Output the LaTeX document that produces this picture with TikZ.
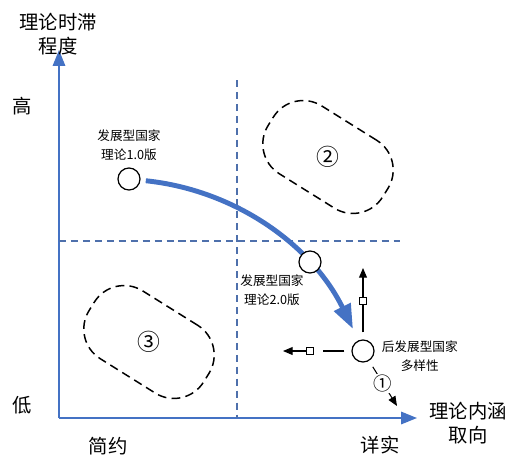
\documentclass[tikz,border=0pt]{standalone}
\usepackage{fontspec}
\setmainfont{Noto Sans CJK SC}
\usetikzlibrary{positioning, shapes, arrows.meta}

\definecolor{axisblue}{RGB}{68,114,196}
\definecolor{gridblue}{RGB}{78,112,172}

\begin{document}
\begin{tikzpicture}[x=0.02cm,y=-0.02cm,
bigtext/.style={align=center,font=\fontsize{11}{14}\selectfont},
smalltext/.style={align=center,font=\fontsize{7.2}{10.5}\selectfont},
point/.style={draw,circle,fill=white,minimum size=0.44cm,inner sep=0pt,line width=0.7pt},
region/.style={draw,dash pattern=on 5pt off 3pt,line width=0.85pt,rounded corners=0.7cm,minimum width=2.7cm,minimum height=1.6cm,rotate=-32},
sq/.style={draw,fill=white,minimum size=0.15cm,inner sep=0pt,line width=0.6pt},
axis/.style={axisblue,line width=1.1pt,-{Triangle[length=9pt,width=7pt]}},
grid/.style={gridblue,line width=0.8pt,dash pattern=on 4pt off 2.8pt},
move/.style={line width=0.6pt,-{Triangle[length=5.5pt,width=4.5pt]}}
]
\useasboundingbox (0,0) rectangle (520,460);

% axes
\coordinate (origin) at (59,418);
\coordinate (ytop) at (59,50);
\coordinate (xend) at (417,418);
\draw[axis] (origin) -- (ytop);
\draw[axis] (origin) -- (xend);
\node[bigtext] (ylab) at (58,34) {理论时滞\\程度};
\node[bigtext] (xlab) at (468,423) {理论内涵\\取向};
\node[bigtext] (high) at (22,106) {高};
\node[bigtext] (low) at (22,405) {低};
\node[bigtext] (simple) at (108,446) {简约};
\node[bigtext] (detail) at (380,445) {详实};

% quadrant lines
\coordinate (vtop) at (237,80);
\coordinate (vbot) at (237,418);
\coordinate (hleft) at (59,241);
\coordinate (hright) at (400,241);
\draw[grid] (vtop) -- (vbot);
\draw[grid] (hleft) -- (hright);

% regions
\node[region] (regA) at (328,157) {};
\node[font=\fontsize{13}{13}\selectfont] at (regA) {②};
\node[region] (regB) at (149,342) {};
\node[font=\fontsize{13}{13}\selectfont] at (regB) {③};

% path of theories
\node[point] (v1) at (129,179) {};
\node[smalltext,above=0.02cm of v1] (v1lab) {发展型国家\\理论1.0版};
\coordinate (tip) at (353,329);
\draw[axisblue,line width=2.8pt,shorten <=3pt,-{Triangle[length=14pt,width=10pt]}]
  (v1) .. controls (235,190) and (312,245) .. (tip);
\node[point] (v2) at (310,262) {};
\node[smalltext] (v2lab) at (272,290) {发展型国家\\理论2.0版};
\node[point] (v3) at (363,351) {};
\node[smalltext,right=0.02cm of v3,yshift=-0.1cm] (v3lab) {后发展型国家\\多样性};

% directions
\node[sq] (sqU) at (363,301) {};
\node[sq] (sqL) at (310,351) {};
\coordinate (upend) at (363,268);
\coordinate (leftend) at (283,351);
\coordinate (diagend) at (397,406);
\draw[line width=0.6pt,shorten <=4pt] (v3) -- (sqU);
\draw[move] (sqU) -- (upend);
\draw[line width=0.6pt,shorten <=4pt,shorten >=5pt] (v3) -- (sqL);
\draw[move] (sqL) -- (leftend);
\draw[move,shorten <=4pt] (v3) -- node[fill=white,inner sep=0.5pt,font=\fontsize{10.5}{10.5}\selectfont] (dirlab) {①} (diagend);
\end{tikzpicture}
\end{document}
